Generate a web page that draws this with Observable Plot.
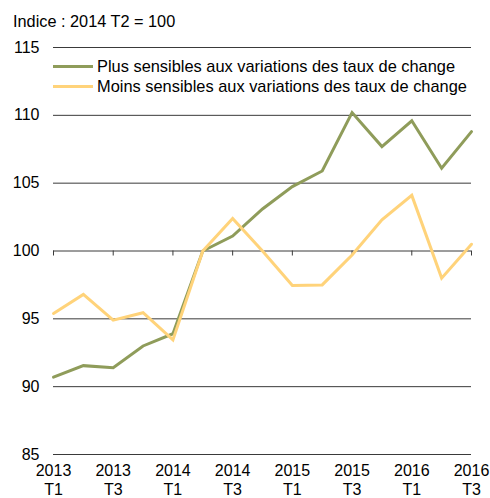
<!DOCTYPE html>
<html>
<head>
<meta charset="utf-8">
<script src="https://cdn.jsdelivr.net/npm/d3@7"></script>
<script src="https://cdn.jsdelivr.net/npm/@observablehq/plot@0.6"></script>
<style>
  body { margin: 0; background: #fff; }
  #wrap { position: relative; width: 490px; height: 498px; font-family: "Liberation Sans", Arial, sans-serif; }
  #title { position: absolute; left: 13px; top: 13px; font-size: 16.3px; line-height: 16px; color: #000; white-space: nowrap; }
  #legend { position: absolute; left: 53px; top: 56px; font-size: 16.4px; color: #000; }
  .li { display: flex; align-items: center; height: 20.6px; white-space: nowrap; }
  .sw { width: 40px; height: 3px; margin-right: 4px; }
</style>
</head>
<body>
<div id="wrap">
  <div id="chart"></div>
  <div id="title"></div>
  <div id="legend"></div>
</div>
<script>
const quarters = ["2013 T1","2013 T2","2013 T3","2013 T4","2014 T1","2014 T2","2014 T3","2014 T4",
                  "2015 T1","2015 T2","2015 T3","2015 T4","2016 T1","2016 T2","2016 T3"];
const plusSensibles  = [90.7, 91.55, 91.4, 93.0, 93.9, 100.0, 101.1, 103.1, 104.75, 105.9, 110.2, 107.7, 109.6, 106.1, 108.8];
const moinsSensibles = [95.4, 96.8, 94.9, 95.45, 93.45, 100.0, 102.4, 100.0, 97.45, 97.5, 99.7, 102.3, 104.1, 98.0, 100.5];
const seriesNames = ["Plus sensibles aux variations des taux de change", "Moins sensibles aux variations des taux de change"];
const seriesColors = ["#8f9c5a", "#ffd37a"];
const yTicks = [85, 90, 95, 100, 105, 110, 115];
const xTickIdx = [0, 2, 4, 6, 8, 10, 12, 14];
const titleText = "Indice : 2014 T2 = 100";

const rows = [];
[plusSensibles, moinsSensibles].forEach((vals, s) => {
  vals.forEach((v, i) => rows.push({i, q: quarters[i], v, s: seriesNames[s]}));
});

const chart = Plot.plot({
  width: 490,
  height: 498,
  marginLeft: 53,
  marginRight: 19,
  marginTop: 47,
  marginBottom: 44,
  style: {fontFamily: "'Liberation Sans', Arial, sans-serif", fontSize: "16px", color: "#000", background: "#fff", overflow: "visible"},
  x: {type: "linear", domain: [0, 14], label: null},
  y: {domain: [85, 115], label: null},
  color: {domain: seriesNames, range: seriesColors},
  marks: [
    Plot.ruleY(yTicks, {stroke: "#3a3a3a", strokeWidth: 1}),
    Plot.ruleX(xTickIdx, {x: d => d, y1: 100, y2: 100, insetBottom: -5, stroke: "#3a3a3a", strokeWidth: 1}),
    Plot.axisY(yTicks, {tickSize: 0, tickPadding: 14, fontSize: 16, fill: "#000", label: null}),
    Plot.axisX(xTickIdx, {tickSize: 0, tickPadding: 8, fontSize: 16, fill: "#000", lineHeight: 1.2, label: null,
      tickFormat: i => quarters[i].replace(" ", "\n")}),
    Plot.line(rows, {x: "i", y: "v", z: "s", stroke: "s", strokeWidth: 3, strokeLinejoin: "miter", strokeMiterlimit: 4})
  ]
});
document.getElementById("chart").appendChild(chart);
document.getElementById("title").textContent = titleText;
const leg = document.getElementById("legend");
seriesNames.forEach((n, k) => {
  const d = document.createElement("div");
  d.className = "li";
  d.innerHTML = `<span class="sw" style="background:${seriesColors[k]}"></span><span>${n}</span>`;
  leg.appendChild(d);
});
</script>
</body>
</html>
